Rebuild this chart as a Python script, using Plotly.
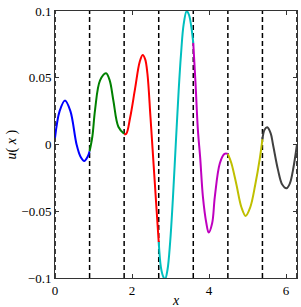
import plotly.graph_objects as go

# element boundaries (dashed lines)
boundaries = [0.0, 0.898, 1.795, 2.693, 3.590, 4.488, 5.386, 6.283]

seg1_x = [0, 0.12, 0.26, 0.4, 0.56, 0.66, 0.76, 0.85, 0.898]
seg1_y = [0.005, 0.025, 0.033, 0.025, 0.0, -0.009, -0.0124, -0.009, -0.005]

seg2_x = [0.898, 0.97, 1.04, 1.17, 1.325, 1.42, 1.515, 1.645, 1.795]
seg2_y = [-0.005, 0.006, 0.026, 0.048, 0.0533, 0.048, 0.033, 0.0133, 0.008]

seg3_x = [1.795, 1.85, 1.95, 2.08, 2.2, 2.277, 2.34, 2.40, 2.48, 2.56, 2.64, 2.693]
seg3_y = [0.0076, 0.008, 0.02, 0.042, 0.062, 0.067, 0.064, 0.053, 0.02, -0.015, -0.05, -0.073]

seg4_x = [2.693, 2.75, 2.81, 2.857, 2.92, 2.99, 3.06, 3.135, 3.21, 3.27, 3.34, 3.42, 3.48, 3.54, 3.59]
seg4_y = [-0.073, -0.092, -0.099, -0.101, -0.094, -0.073, -0.041, 0.0, 0.04, 0.067, 0.09, 0.1, 0.097, 0.088, 0.076]

seg5_x = [3.59, 3.65, 3.71, 3.77, 3.84, 3.93, 3.99, 4.08, 4.15, 4.28, 4.4, 4.488]
seg5_y = [0.076, 0.045, 0.011, -0.010, -0.039, -0.059, -0.066, -0.059, -0.039, -0.014, -0.007, -0.007]

seg6_x = [4.488, 4.58, 4.71, 4.84, 4.95, 5.07, 5.2, 5.32, 5.386]
seg6_y = [-0.007, -0.014, -0.030, -0.047, -0.0535, -0.047, -0.030, -0.010, 0.004]

seg7_x = [5.386, 5.44, 5.51, 5.6, 5.66, 5.79, 5.9, 6.01, 6.1, 6.18, 6.283]
seg7_y = [0.004, 0.011, 0.0129, 0.0084, 0.0, -0.019, -0.030, -0.0328, -0.029, -0.019, 0.0]

segments = [(seg1_x, seg1_y), (seg2_x, seg2_y), (seg3_x, seg3_y), (seg4_x, seg4_y),
            (seg5_x, seg5_y), (seg6_x, seg6_y), (seg7_x, seg7_y)]
colors = ["#0000FF", "#008000", "#FF0000", "#00BFBF", "#BF00BF", "#BFBF00", "#404040"]

x_ticks = [0, 2, 4, 6]
x_ticktext = ["0", "2", "4", "6"]
y_ticks = [-0.1, -0.05, 0, 0.05, 0.1]
y_ticktext = ["\u22120.1", "\u22120.05", "0", "0.05", "0.1"]

font = "Liberation Serif, Times New Roman, serif"

fig = go.Figure()
for (sx, sy), c in zip(segments, colors):
    fig.add_trace(go.Scatter(x=sx, y=sy, mode="lines",
                             line=dict(color=c, width=2, shape="spline", smoothing=1.0),
                             showlegend=False, hoverinfo="skip"))

for b in boundaries:
    fig.add_shape(type="line", x0=b, x1=b, xref="x", yref="paper", y0=0, y1=1,
                  line=dict(color="black", width=1.5, dash="5px,3px"), layer="below")

axis_common = dict(showgrid=False, zeroline=False, showline=True, linecolor="#333333",
                   linewidth=1, mirror="ticks", ticks="inside", ticklen=4,
                   tickcolor="#333333", tickfont=dict(family=font, size=13, color="black"))

fig.update_xaxes(range=[0, 6.2832], tickvals=x_ticks, ticktext=x_ticktext, **axis_common)
fig.update_yaxes(range=[-0.1, 0.1], tickvals=y_ticks, ticktext=y_ticktext, **axis_common)

fig.add_annotation(text="<i>x</i>", xref="paper", yref="paper", x=0.5, y=-0.086,
                   xanchor="center", yanchor="middle", showarrow=False,
                   font=dict(family=font, size=14, color="black"))
fig.add_annotation(text="<i>u</i>( <i>x</i> )", xref="paper", yref="paper", x=-0.178, y=0.5,
                   xanchor="center", yanchor="middle", showarrow=False, textangle=-90,
                   font=dict(family=font, size=14, color="black"))

fig.update_layout(width=301, height=307, margin=dict(l=55, r=4, t=11, b=29),
                  paper_bgcolor="white", plot_bgcolor="white")

fig.write_html("out.html", config={"displayModeBar": False},
               post_script="document.body.style.margin='0';document.body.style.overflow='hidden';")
